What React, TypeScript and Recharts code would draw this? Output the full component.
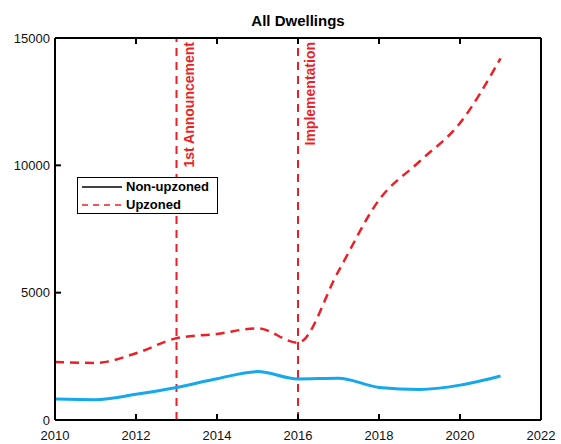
import { LineChart, Line, XAxis, YAxis, ReferenceLine } from 'recharts'

const years = [2010, 2011, 2012, 2013, 2014, 2015, 2016, 2017, 2018, 2019, 2020, 2021]
const nonUpzoned = [825, 800, 1010, 1280, 1620, 1900, 1610, 1640, 1280, 1200, 1370, 1730]
const upzoned = [2280, 2240, 2620, 3210, 3380, 3600, 3035, 5850, 8640, 10150, 11660, 14200]
const xTicks = [2010, 2012, 2014, 2016, 2018, 2020, 2022]
const yTicks = [0, 5000, 10000, 15000]
const events = [
  { year: 2013, label: '1st Announcement' },
  { year: 2016, label: 'Implementation' },
]

const data = years.map((year, i) => ({ year, nonUpzoned: nonUpzoned[i], upzoned: upzoned[i] }))

const RED = '#ec1f27'
const BLUE = '#16a8ec'
const FONT = '"Liberation Sans", Arial, sans-serif'
const TICK_LEN = 6

const isEdgeX = (v: number) => v === 2010 || v === 2022
const isEdgeY = (v: number) => v === 0 || v === 15000

// bottom axis: inward tick + label under the axis
const BottomTick = ({ x, y, payload }: any) => (
  <g>
    {!isEdgeX(payload.value) && <line x1={x} y1={y} x2={x} y2={y - TICK_LEN} stroke="#000" strokeWidth={2} />}
    <text x={x} y={y + 20} textAnchor="middle" fill="#111" fontSize={13} fontFamily={FONT}>
      {payload.value}
    </text>
  </g>
)

const TopTick = ({ x, y, payload }: any) =>
  isEdgeX(payload.value) ? <g /> : <line x1={x} y1={y} x2={x} y2={y + TICK_LEN} stroke="#000" strokeWidth={2} />

const LeftTick = ({ x, y, payload }: any) => (
  <g>
    {!isEdgeY(payload.value) && <line x1={x} y1={y} x2={x + TICK_LEN} y2={y} stroke="#000" strokeWidth={2} />}
    <text
      x={x - 5}
      y={payload.value === 0 ? y : y}
      textAnchor="end"
      dominantBaseline="central"
      fill="#111"
      fontSize={13}
      fontFamily={FONT}
    >
      {payload.value}
    </text>
  </g>
)

const RightTick = ({ x, y, payload }: any) =>
  isEdgeY(payload.value) ? <g /> : <line x1={x} y1={y} x2={x - TICK_LEN} y2={y} stroke="#000" strokeWidth={2} />

const EventLabel = ({ viewBox, text }: any) => {
  const x = viewBox.x + 12
  const y = viewBox.y + 4
  return (
    <text
      x={x}
      y={y}
      transform={`rotate(-90 ${x} ${y})`}
      textAnchor="end"
      dominantBaseline="central"
      fill={RED}
      fontWeight="bold"
      fontSize={14}
      fontFamily={FONT}
    >
      {text}
    </text>
  )
}

export default function App() {
  return (
    <div style={{ position: 'absolute', left: 0, top: 0, width: 561, height: 444, background: '#fff', fontFamily: FONT }}>
      <div style={{ position: 'absolute', left: 0, width: 596, top: 12, textAlign: 'center', fontWeight: 'bold', fontSize: 15 }}>
        All Dwellings
      </div>
      <LineChart width={561} height={444} data={data} margin={{ top: 37, right: 19, left: 0, bottom: 0 }}>
        <XAxis
          dataKey="year"
          type="number"
          domain={[2010, 2022]}
          ticks={xTicks}
          height={24}
          stroke="#000"
          strokeWidth={2}
          tickLine={false}
          tickSize={0}
          tickMargin={0}
          tick={<BottomTick />}
          interval={0}
        />
        <XAxis
          xAxisId="top"
          orientation="top"
          dataKey="year"
          type="number"
          domain={[2010, 2022]}
          ticks={xTicks}
          height={1}
          stroke="#000"
          strokeWidth={2}
          tickLine={false}
          tickSize={0}
          tickMargin={0}
          tick={<TopTick />}
          interval={0}
        />
        <YAxis
          domain={[0, 15000]}
          ticks={yTicks}
          width={55}
          stroke="#000"
          strokeWidth={2}
          tickLine={false}
          tickSize={0}
          tickMargin={0}
          tick={<LeftTick />}
          interval={0}
        />
        <YAxis
          yAxisId="right"
          orientation="right"
          domain={[0, 15000]}
          ticks={yTicks}
          width={1}
          stroke="#000"
          strokeWidth={2}
          tickLine={false}
          tickSize={0}
          tickMargin={0}
          tick={<RightTick />}
          interval={0}
        />
        {events.map((e) => (
          <ReferenceLine
            key={e.year}
            x={e.year}
            stroke={RED}
            strokeWidth={2}
            strokeDasharray="8 6"
            label={<EventLabel text={e.label} />}
          />
        ))}
        <Line
          dataKey="nonUpzoned"
          type="monotone"
          stroke={BLUE}
          strokeWidth={3}
          dot={false}
          isAnimationActive={false}
        />
        <Line
          dataKey="upzoned"
          type="monotone"
          stroke={RED}
          strokeWidth={2.5}
          strokeDasharray="9 6"
          dot={false}
          isAnimationActive={false}
        />
      </LineChart>
      <div
        style={{
          position: 'absolute',
          left: 77,
          top: 177,
          width: 141,
          height: 37,
          border: '1px solid #000',
          background: '#fff',
          boxSizing: 'border-box',
          fontWeight: 'bold',
          fontSize: 13,
        }}
      >
        <svg width={48} height={36} style={{ position: 'absolute', left: 0, top: 0 }}>
          <line x1={4} y1={9} x2={44} y2={9} stroke="#000" strokeWidth={1.5} />
          <line x1={4} y1={27} x2={47} y2={27} stroke={RED} strokeWidth={1.5} strokeDasharray="6 5" />
        </svg>
        <div style={{ position: 'absolute', left: 48, top: 1, lineHeight: '16px' }}>Non-upzoned</div>
        <div style={{ position: 'absolute', left: 48, top: 19, lineHeight: '16px' }}>Upzoned</div>
      </div>
    </div>
  )
}
